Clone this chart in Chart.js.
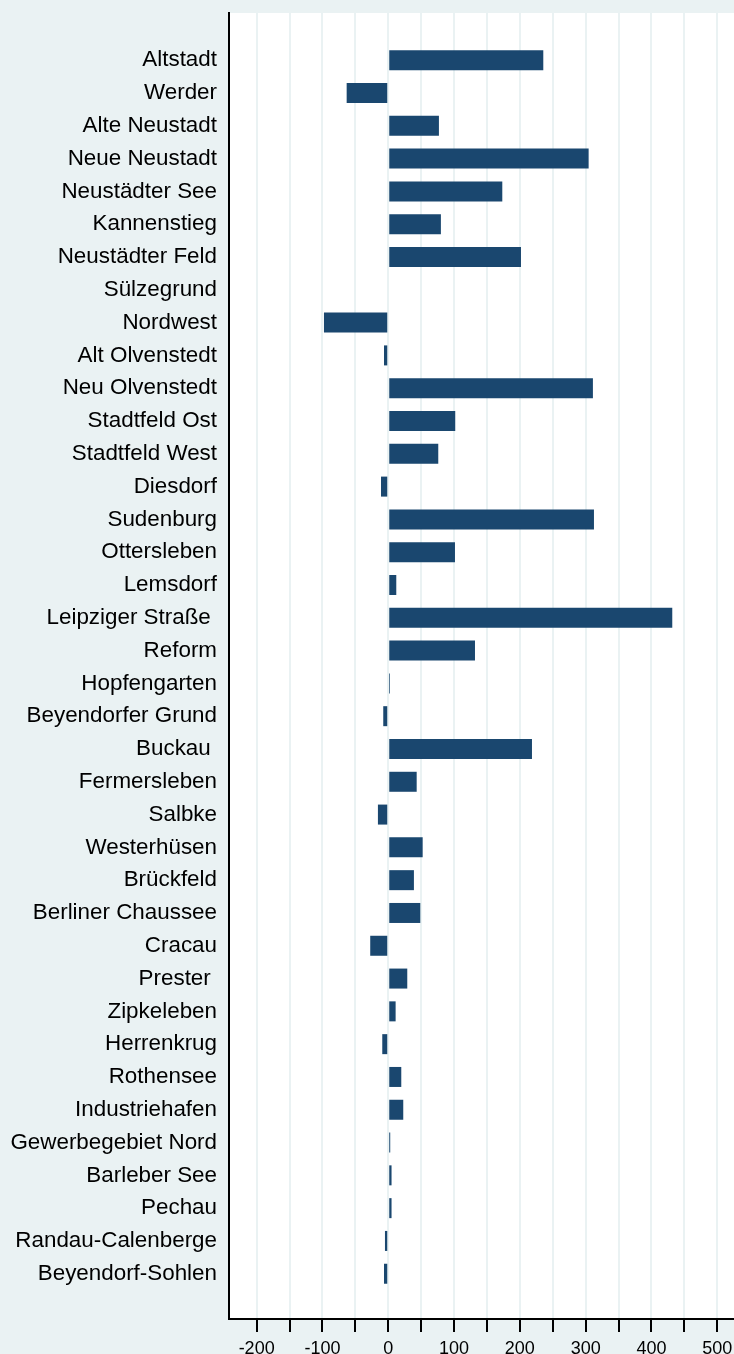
<!DOCTYPE html>
<html>
<head>
<meta charset="utf-8">
<script src="https://cdn.jsdelivr.net/npm/chart.js@4/dist/chart.umd.min.js"></script>
<style>
  body { margin: 0; background: #eaf2f3; }
  canvas { display: block; }
</style>
</head>
<body>
<canvas id="chart" width="734" height="1354"></canvas>
<script>
// Stadtteile (top to bottom)
const districts = [
    'Altstadt', 'Werder', 'Alte Neustadt', 'Neue Neustadt', 'Neustädter See',
    'Kannenstieg', 'Neustädter Feld', 'Sülzegrund', 'Nordwest', 'Alt Olvenstedt',
    'Neu Olvenstedt', 'Stadtfeld Ost', 'Stadtfeld West', 'Diesdorf', 'Sudenburg',
    'Ottersleben', 'Lemsdorf', 'Leipziger Straße ', 'Reform', 'Hopfengarten',
    'Beyendorfer Grund', 'Buckau ', 'Fermersleben', 'Salbke', 'Westerhüsen',
    'Brückfeld', 'Berliner Chaussee', 'Cracau', 'Prester ', 'Zipkeleben',
    'Herrenkrug', 'Rothensee', 'Industriehafen', 'Gewerbegebiet Nord', 'Barleber See',
    'Pechau', 'Randau-Calenberge', 'Beyendorf-Sohlen'
];

const changes = [
    235.6, -63.2, 77, 304.5, 173.3,
    80, 201.7, 0, -97.7, -6.5,
    311, 101.8, 76, -11, 312.6,
    101.4, 12.2, 431.6, 131.8, 2.6,
    -7.6, 218.4, 43.2, -15.7, 52.3,
    39, 48.7, -27.4, 28.9, 11.2,
    -9.1, 19.8, 22.8, 3, 5,
    5, -5, -6.5
];

// x axis: ticks every 50, labels every 100
const xMin = -242;
const xMax = 525.4;
const xStep = 50;

const bgColor = '#eaf2f3';
const barColor = '#1a476f';
const fontFamily = "'Liberation Sans', Arial, sans-serif";

// paint outer background and white plot region
const plotBackground = {
    id: 'plotBackground',
    beforeDraw(chart) {
        const { ctx, chartArea } = chart;
        ctx.save();
        ctx.fillStyle = bgColor;
        ctx.fillRect(0, 0, chart.width, chart.height);
        ctx.fillStyle = '#ffffff';
        ctx.fillRect(chartArea.left, chartArea.top, chartArea.right - chartArea.left, chartArea.bottom - chartArea.top);
        ctx.restore();
    }
};

const ctx = document.getElementById('chart').getContext('2d');
new Chart(ctx, {
    type: 'bar',
    data: {
        datasets: [{
            data: changes.map((v, i) => ({ x: v, y: i })),
            backgroundColor: barColor,
            borderWidth: 0,
            inflateAmount: 0,
            barThickness: 20
        }]
    },
    options: {
        indexAxis: 'y',
        responsive: false,
        devicePixelRatio: 1,
        animation: false,
        layout: { padding: { top: 13, left: 0, right: 0, bottom: 0 } },
        plugins: {
            legend: { display: false },
            tooltip: { enabled: false }
        },
        scales: {
            x: {
                type: 'linear',
                min: xMin,
                max: xMax,
                afterFit(scale) {
                    scale.height = 35;
                    scale.paddingLeft = 0;
                    scale.paddingRight = 0;
                },
                grid: {
                    color: bgColor,
                    lineWidth: 2,
                    drawTicks: true,
                    tickLength: 13,
                    tickColor: '#000',
                    tickWidth: 2
                },
                border: { display: true, color: '#000', width: 2 },
                ticks: {
                    stepSize: xStep,
                    includeBounds: false,
                    autoSkip: false,
                    maxRotation: 0,
                    padding: 6,
                    color: '#000',
                    font: { family: fontFamily, size: 18 },
                    callback: v => (v % 100 === 0 ? String(v) : '')
                }
            },
            y: {
                type: 'linear',
                reverse: true,
                offset: false,
                min: -1.44,
                max: 38.38,
                afterFit(scale) {
                    scale.width = 229;
                    scale.paddingTop = 0;
                    scale.paddingBottom = 0;
                },
                grid: { display: false, drawTicks: false, offset: false },
                border: { display: true, color: '#000', width: 2 },
                ticks: {
                    stepSize: 1,
                    includeBounds: false,
                    autoSkip: false,
                    padding: 12,
                    color: '#000',
                    font: { family: fontFamily, size: 22.4 },
                    callback: v => {
                        const i = Math.round(v);
                        return Math.abs(v - i) < 1e-6 && i >= 0 && i < districts.length ? districts[i] : '';
                    }
                }
            }
        }
    },
    plugins: [plotBackground]
});
</script>
</body>
</html>
